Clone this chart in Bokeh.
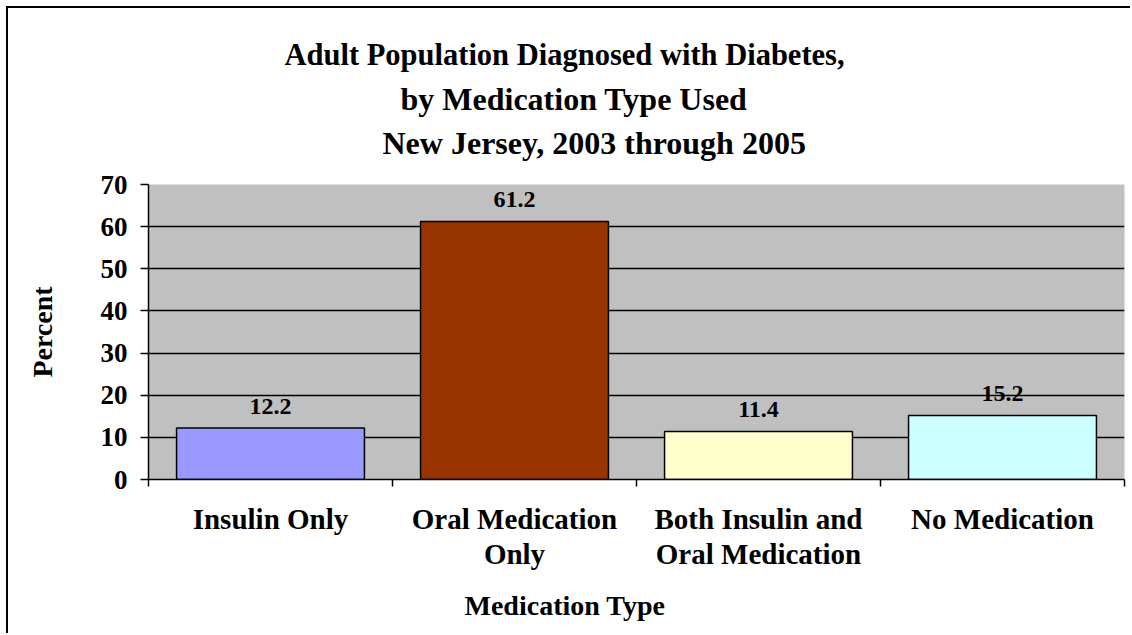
from bokeh.plotting import figure
from bokeh.models import (FactorRange, Range1d, LinearAxis, FixedTicker, Title,
                          ColumnDataSource)
from bokeh.core.properties import value
from bokeh.embed import file_html
from bokeh.resources import INLINE

# ---- data ----
categories = ["Insulin Only", "Oral Medication Only",
              "Both Insulin and Oral Medication", "No Medication"]
label_line1 = ["Insulin Only", "Oral Medication", "Both Insulin and", "No Medication"]
label_line2 = ["", "Only", "Oral Medication", ""]
percents = [12.2, 61.2, 11.4, 15.2]
bar_colors = ["#9999FF", "#993300", "#FFFFCC", "#CCFFFF"]
y_ticks = [0, 10, 20, 30, 40, 50, 60, 70]
title_lines = ["Adult Population Diagnosed with Diabetes,",
               "by Medication Type Used",
               "New Jersey, 2003 through 2005"]
y_title = "Percent"
x_title = "Medication Type"

FONT = "Liberation Serif"

src = ColumnDataSource(dict(cat=categories, val=percents, color=bar_colors,
                            label=[f"{v:.1f}" for v in percents]))

p = figure(width=1124, height=627,
           x_range=FactorRange(*categories), y_range=Range1d(0, y_ticks[-1]),
           x_axis_location=None,
           output_backend="svg", toolbar_location=None,
           min_border_left=140, min_border_right=8,
           min_border_top=176, min_border_bottom=153,
           background_fill_color="#C0C0C0", border_fill_color="white",
           outline_line_color=None)

p.vbar(x="cat", top="val", width=0.77, source=src, fill_color="color",
       line_color="black", line_width=1.5)

p.text(x="cat", y="val", text="label", source=src, text_align="center",
       text_baseline="alphabetic", y_offset=-22,
       text_font=value(FONT), text_font_style="bold", text_font_size="24px",
       text_color="black")

# grid
p.xgrid.visible = False
p.ygrid.ticker = FixedTicker(ticks=y_ticks)
p.ygrid.grid_line_color = "black"
p.ygrid.grid_line_width = 1.5

# y axis
ya = p.yaxis[0]
ya.ticker = FixedTicker(ticks=y_ticks)
ya.major_tick_in = 0
ya.major_tick_out = 8
ya.minor_tick_line_color = None
ya.axis_line_width = 1.5
ya.major_tick_line_width = 1.5
ya.major_label_text_font = FONT
ya.major_label_text_font_style = "bold"
ya.major_label_text_font_size = "27px"
ya.major_label_text_color = "black"
ya.major_label_standoff = 13
ya.axis_label = y_title
ya.axis_label_text_font = FONT
ya.axis_label_text_font_style = "bold"
ya.axis_label_text_font_size = "28px"
ya.axis_label_text_color = "black"
ya.axis_label_standoff = 40

# x axes: category centres (labels) and category boundaries (ticks)
n = len(categories)
centres = [i + 0.5 for i in range(n)]
bounds = [float(i) for i in range(n + 1)]

ax1 = LinearAxis(ticker=FixedTicker(ticks=centres, minor_ticks=bounds),
                 major_tick_in=0, major_tick_out=0,
                 minor_tick_in=0, minor_tick_out=7,
                 minor_tick_line_width=1.5, minor_tick_line_color="black",
                 axis_line_width=1.5,
                 major_label_overrides=dict(zip(centres, label_line1)),
                 major_label_text_font=FONT, major_label_text_font_style="bold",
                 major_label_text_font_size="29px", major_label_text_color="black",
                 major_label_standoff=16)

two_line = [(c, t) for c, t in zip(centres, label_line2) if t]
ax2 = LinearAxis(ticker=FixedTicker(ticks=[c for c, _ in two_line]),
                 major_tick_in=0, major_tick_out=0,
                 minor_tick_line_color=None, axis_line_color=None,
                 major_label_overrides=dict(two_line),
                 major_label_text_font=FONT, major_label_text_font_style="bold",
                 major_label_text_font_size="29px", major_label_text_color="black",
                 major_label_standoff=0)

xt = Title(text=x_title, align="left", offset=316, text_font=FONT,
           text_font_style="bold", text_font_size="28px", text_color="black",
           standoff=30)

p.below = [ax1, ax2, xt]

# blank spacer between the plot area and the title block:
# one white tick on white, no line, no visible label
spacer = LinearAxis(ticker=FixedTicker(ticks=centres[:1]), major_tick_in=0,
                    major_tick_out=21, major_tick_line_color="white",
                    minor_tick_line_color=None, axis_line_color=None,
                    major_label_text_color=None, major_label_text_font_size="1px",
                    major_label_standoff=0)

t_x_offsets = [136, 252, 234]
t_standoff = [7, 6, 6]
t_size = ["30.5px", "32px", "32px"]
titles = [Title(text=line, align="left", offset=xo, standoff=so,
                text_font=FONT, text_font_style="bold", text_font_size=fs,
                text_color="black")
          for line, xo, so, fs in zip(title_lines, t_x_offsets, t_standoff, t_size)]

# panels nearest the plot area first
p.above = [spacer] + titles[::-1]

p.styles = {"margin-left": "6px", "margin-top": "6px",
            "border-left": "2px solid black", "border-top": "2px solid black"}

open("out.html", "w").write(file_html(p, INLINE))
